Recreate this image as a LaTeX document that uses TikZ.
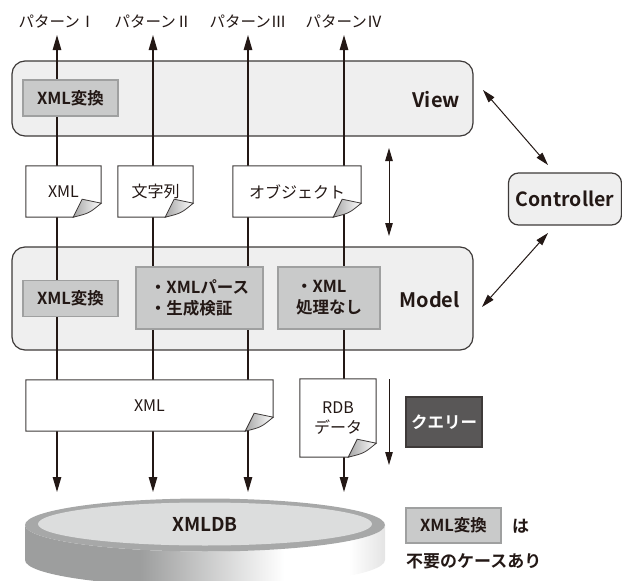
\documentclass[tikz,border=0pt]{standalone}
\usepackage{fontspec}
\setmainfont{Noto Sans CJK JP}[BoldFont={* Bold}]
\usetikzlibrary{arrows.meta,positioning,calc}
\definecolor{ink}{HTML}{231815}
\definecolor{edge}{HTML}{3E3A39}
\definecolor{panelfill}{HTML}{EFEFEF}
\definecolor{convfill}{HTML}{C9CACA}
\definecolor{convedge}{HTML}{9FA0A0}
\definecolor{queryfill}{HTML}{595757}
\definecolor{ringgray}{HTML}{A7A8A8}
\definecolor{topgray}{HTML}{DCDDDD}
\definecolor{sidedark}{HTML}{9D9E9E}
\definecolor{sidelight}{HTML}{E4E4E4}
\pgfdeclarehorizontalshading{diskside}{100bp}{color(0bp)=(sidedark); color(25bp)=(sidedark); color(41bp)=(sidedark); color(61bp)=(white); color(70bp)=(white); color(75bp)=(sidelight); color(100bp)=(sidelight)}
\tikzset{panel/.style={draw=edge,line width=1.2pt,fill=panelfill,rounded corners=13pt,minimum width=461pt},
  title/.style={font=\fontsize{20}{22}\selectfont\bfseries,text=ink,inner sep=0pt},
  conv/.style={draw=convedge,line width=1.2pt,fill=convfill,minimum width=95pt,minimum height=36pt,inner sep=2pt,font=\fontsize{16.5}{21}\selectfont\bfseries,text=ink},
  query/.style={conv,draw=edge,fill=queryfill,text=white,minimum width=76pt,minimum height=50pt},
  docarea/.style={inner sep=0pt},
  doctext/.style={font=\fontsize{16}{20}\selectfont,text=ink,align=center},
  patlabel/.style={font=\fontsize{15.5}{17}\selectfont,text=ink},
  legtext/.style={font=\fontsize{17}{20}\selectfont\bfseries,text=ink,inner sep=0pt},
  flow/.style={{Triangle[length=15pt,width=8.5pt]}-{Triangle[length=15pt,width=8.5pt]},line width=1.1pt,draw=ink},
  both/.style={{Triangle[length=13pt,width=7.5pt]}-{Triangle[length=13pt,width=7.5pt]},line width=1pt,draw=ink},
  oneway/.style={-{Triangle[length=13pt,width=7.5pt]},line width=1pt,draw=ink}}
% sheet of paper with a curled lower right corner
\newcommand{\paperdoc}[5]{%
  \node[docarea,minimum width=#3,minimum height=#4] (#1) at #2 {};
  \filldraw[draw=edge,line width=1pt,fill=white] (#1.north west) -- (#1.north east) -- ([yshift=14pt]#1.south east) -- ([xshift=-28pt]#1.south east) -- (#1.south west) -- cycle;
  \shade[left color=gray!70,right color=white,draw=edge,line width=0.8pt] ([xshift=-28pt]#1.south east) .. controls ([xshift=-24pt,yshift=9pt]#1.south east) .. ([xshift=-19pt,yshift=18pt]#1.south east) -- ([yshift=14pt]#1.south east) .. controls ([xshift=-12pt,yshift=4pt]#1.south east) .. ([xshift=-28pt]#1.south east) -- cycle;
  \node[doctext] (#1-txt) at (#1) {#5};}

\begin{document}
\begin{tikzpicture}[x=1pt,y=-1pt]
\useasboundingbox (0,0) rectangle (622,581);
\node[panel,minimum height=75pt] (view) at (242.5,98.5) {};
\node[panel,minimum height=103pt] (model) at (242.5,298.5) {};
\node[panel,rounded corners=10pt,minimum width=113pt,minimum height=52pt,font=\fontsize{19.5}{22}\selectfont\bfseries,text=ink] (ctrl) at (565,199) {Controller};
\node[title,anchor=east] (viewname) at (460,100) {View}; \node[title,anchor=east] (modelname) at (460,300) {Model};

\foreach \i/\x/\n in {1/57/Ⅰ,2/153/Ⅱ,3/248/Ⅲ,4/344/Ⅳ}{
  \node[patlabel] (pat\i) at (\x,21.5) {パターン\n};
  \coordinate (up\i) at (\x,35); \coordinate (down\i) at (\x,492);
  \draw[flow] (up\i) -- (down\i);}

\node[conv] (vconv) at (70.5,98) {XML変換};
\node[conv] (mconv) at (70.5,298.5) {XML変換};
\node[conv,minimum width=127pt,minimum height=62pt,align=left] (parse) at (199.5,298) {・XMLパース\\・生成検証};
\node[conv,minimum width=102pt,minimum height=62pt,align=left] (noproc) at (329,298) {・XML\\処理なし};

\paperdoc{dxml}{(63.5,191.5)}{75pt}{51pt}{XML}
\paperdoc{dstr}{(155.5,191.5)}{75pt}{51pt}{文字列}
\paperdoc{dobj}{(297,191.5)}{128pt}{51pt}{オブジェクト}
\paperdoc{dxmlx}{(149.5,405.5)}{247pt}{51pt}{XML}
\paperdoc{drdb}{(338,418)}{76pt}{78pt}{RDB\\データ}
\node[query] (query) at (444,422) {クエリー};

\coordinate (vm1) at (389,148); \coordinate (vm2) at (389,236); \draw[both] (vm1) -- (vm2);
\coordinate (q1) at (389,379); \coordinate (q2) at (389,465); \draw[oneway] (q1) -- (q2);
\coordinate (vc1) at (483,90); \coordinate (vc2) at (548,165); \draw[both] (vc1) -- (vc2);
\coordinate (mc1) at (548,233); \coordinate (mc2) at (482,307); \draw[both] (mc1) -- (mc2);

% database disk
\shade[shading=diskside] (25,525) -- (25,560) arc[start angle=180,end angle=360,x radius=180pt,y radius=26.5pt] -- (385,525) arc[start angle=0,end angle=-180,x radius=180pt,y radius=26.5pt] -- cycle;
\fill[ringgray] (205,525) ellipse[x radius=180pt,y radius=26.5pt];
\fill[topgray] (205,524) ellipse[x radius=167pt,y radius=21.5pt];
\node[title,font=\fontsize{19}{22}\selectfont\bfseries] (db) at (205,524) {XMLDB};

\node[conv,minimum height=35pt] (legconv) at (453.5,525.5) {XML変換};
\node[legtext,anchor=west] (legha) at (512,526) {は};
\node[legtext,anchor=west] (legnote) at (406,561) {不要のケースあり};
\end{tikzpicture}
\end{document}
